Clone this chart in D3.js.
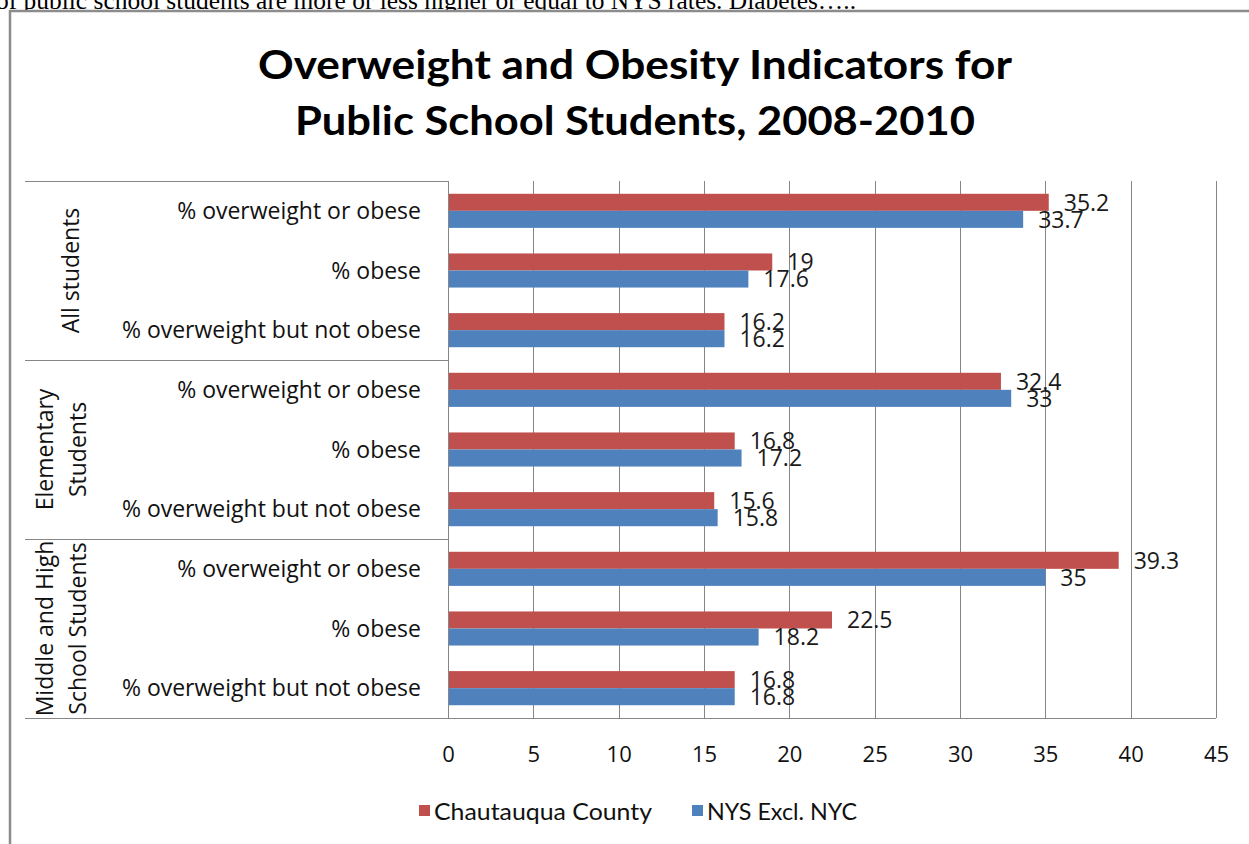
<!DOCTYPE html>
<html lang="en">
<head>
<meta charset="utf-8">
<title>Overweight and Obesity Indicators</title>
<script src="https://cdn.jsdelivr.net/npm/d3@7"></script>
<style>
  body { margin: 0; background: #fff; overflow: hidden; }
  svg text { font-family: "Open Sans", Lato, sans-serif; }
</style>
</head>
<body>
<script>
    // data
    var groups = ["All students", "Elementary Students", "Middle and High School Students"];
    var groupLines = [["All students"], ["Elementary", "Students"], ["Middle and High", "School Students"]];
    var indicators = ["% overweight or obese", "% obese", "% overweight but not obese"];
    var seriesNames = ["Chautauqua County", "NYS Excl. NYC"];
    var chautauqua = [35.2, 19, 16.2, 32.4, 16.8, 15.6, 39.3, 22.5, 16.8];
    var nys = [33.7, 17.6, 16.2, 33, 17.2, 15.8, 35, 18.2, 16.8];
    var xTicks = [0, 5, 10, 15, 20, 25, 30, 35, 40, 45];
    var colors = ["#C0504D", "#4F81BD"];

    var w = 1249, h = 844;
    var plotLeft = 448, plotRight = 1216, plotTop = 181, plotBottom = 718;
    var gridColor = "#868686";

    // one row per (group, indicator)
    var rows = [];
    groups.forEach(function (g, gi) {
        indicators.forEach(function (ind, ii) {
            var k = gi * indicators.length + ii;
            rows.push({ key: k, group: g, label: ind, values: [chautauqua[k], nys[k]] });
        });
    });

    var svg = d3.select("body").append("svg")
        .attr("width", w)
        .attr("height", h);

    // bit of page text cut off above the chart
    svg.append("text")
        .attr("x", -4)
        .attr("y", 9)
        .style("font-family", "'Liberation Serif', serif")
        .style("font-size", "25px")
        .attr("fill", "#000")
        .attr("textLength", 860)
        .attr("lengthAdjust", "spacingAndGlyphs")
        .text("of public school students are more or less higher or equal to NYS rates. Diabetes\u2026..");

    // chart frame
    svg.append("rect")
        .attr("x", 10).attr("y", 11)
        .attr("width", 1400).attr("height", 1000)
        .attr("fill", "#fff")
        .attr("stroke", "#8c8c8c")
        .attr("stroke-width", 2.5);

    // title
    var title = svg.append("text")
        .attr("text-anchor", "middle")
        .style("font-family", "Lato, sans-serif")
        .style("font-size", "40px")
        .style("font-weight", "bold")
        .attr("fill", "#000");
    title.append("tspan").attr("x", 635).attr("y", 79)
        .attr("textLength", 754).attr("lengthAdjust", "spacingAndGlyphs")
        .text("Overweight and Obesity Indicators for");
    title.append("tspan").attr("x", 635).attr("y", 135)
        .attr("textLength", 680).attr("lengthAdjust", "spacingAndGlyphs")
        .text("Public School Students, 2008-2010");

    var x = d3.scaleLinear().domain([0, 45]).range([plotLeft, plotRight]);

    var y = d3.scaleBand()
        .domain(rows.map(function (d) { return d.key; }))
        .range([plotTop, plotBottom])
        .padding(0);

    var ySub = d3.scaleBand()
        .domain([0, 1])
        .range([0, y.bandwidth()])
        .paddingInner(0)
        .paddingOuter(0.75);

    var yGroup = d3.scaleBand()
        .domain(groups)
        .range([plotTop, plotBottom]);

    // vertical gridlines
    svg.append("g").selectAll("line")
        .data(xTicks)
        .enter()
        .append("line")
        .attr("x1", function (d) { return Math.round(x(d)) + 0.5; })
        .attr("x2", function (d) { return Math.round(x(d)) + 0.5; })
        .attr("y1", plotTop)
        .attr("y2", plotBottom)
        .attr("stroke", gridColor)
        .attr("stroke-width", 1);

    // x axis labels
    var xAxis = d3.axisBottom(x)
        .tickValues(xTicks)
        .tickSize(0)
        .tickPadding(28);
    var xg = svg.append("g")
        .attr("transform", "translate(0," + plotBottom + ")")
        .call(xAxis);
    xg.select(".domain").remove();
    xg.selectAll("text")
        .style("font-family", "'Open Sans', sans-serif")
        .style("font-size", "22px")
        .attr("fill", "#111");

    // group separators on the category side + plot frame lines
    svg.append("g").selectAll("line")
        .data(groups)
        .enter()
        .append("line")
        .attr("x1", 25)
        .attr("x2", plotLeft)
        .attr("y1", function (d) { return Math.round(yGroup(d)) + 0.5; })
        .attr("y2", function (d) { return Math.round(yGroup(d)) + 0.5; })
        .attr("stroke", gridColor);
    svg.append("line")
        .attr("x1", 25).attr("x2", plotRight)
        .attr("y1", plotBottom + 0.5).attr("y2", plotBottom + 0.5)
        .attr("stroke", gridColor);
    svg.append("line")
        .attr("x1", plotRight + 0.5).attr("x2", plotRight + 0.5)
        .attr("y1", plotTop).attr("y2", plotBottom)
        .attr("stroke", gridColor);

    // bars
    var rowG = svg.append("g").selectAll("g")
        .data(rows)
        .enter()
        .append("g")
        .attr("transform", function (d) { return "translate(0," + y(d.key) + ")"; });

    rowG.selectAll("rect")
        .data(function (d) { return d.values; })
        .enter()
        .append("rect")
        .attr("x", x(0) + 1)
        .attr("y", function (d, i) { return ySub(i); })
        .attr("width", function (d) { return x(d) - x(0) - 1; })
        .attr("height", ySub.bandwidth())
        .attr("fill", function (d, i) { return colors[i]; });

    // value labels
    rowG.selectAll("text.val")
        .data(function (d) { return d.values; })
        .enter()
        .append("text")
        .attr("class", "val")
        .attr("x", function (d) { return x(d) + 15; })
        .attr("y", function (d, i) { return ySub(i) + ySub.bandwidth() / 2; })
        .attr("dy", "0.36em")
        .style("font-size", "23px")
        .attr("fill", "#1a1a1a")
        .text(function (d) { return d; });

    // indicator labels
    svg.append("g").selectAll("text")
        .data(rows)
        .enter()
        .append("text")
        .attr("x", 421)
        .attr("y", function (d) { return y(d.key) + y.bandwidth() / 2; })
        .attr("dy", "0.36em")
        .attr("text-anchor", "end")
        .style("font-size", "23px")
        .attr("fill", "#111")
        .text(function (d) { return d.label; });

    // group labels (rotated)
    var gl = svg.append("g").selectAll("text")
        .data(groups)
        .enter()
        .append("text")
        .attr("text-anchor", "middle")
        .style("font-size", "23px")
        .attr("fill", "#111")
        .attr("transform", function (d, i) {
            var n = groupLines[i].length;
            var cx = n === 1 ? 71 : 45;
            return "translate(" + cx + "," + (yGroup(d) + yGroup.bandwidth() / 2) + ")rotate(-90)";
        });
    gl.selectAll("tspan")
        .data(function (d, i) { return groupLines[i]; })
        .enter()
        .append("tspan")
        .attr("x", 0)
        .attr("y", function (d, i) { return i * 33; })
        .attr("dy", "0.36em")
        .text(function (d) { return d; });

    // legend
    var legendX = [419, 692];
    var legendW = [218, 150];
    var lg = svg.append("g").selectAll("g")
        .data(seriesNames)
        .enter()
        .append("g")
        .attr("transform", function (d, i) { return "translate(" + legendX[i] + ",805)"; });
    lg.append("rect")
        .attr("width", 11).attr("height", 11)
        .attr("fill", function (d, i) { return colors[i]; });
    lg.append("text")
        .attr("x", 15)
        .attr("y", 6)
        .attr("dy", "0.36em")
        .style("font-family", "Lato, sans-serif")
        .style("font-size", "24px")
        .attr("fill", "#111")
        .attr("textLength", function (d, i) { return legendW[i]; })
        .attr("lengthAdjust", "spacingAndGlyphs")
        .text(function (d) { return d; });
</script>
</body>
</html>
